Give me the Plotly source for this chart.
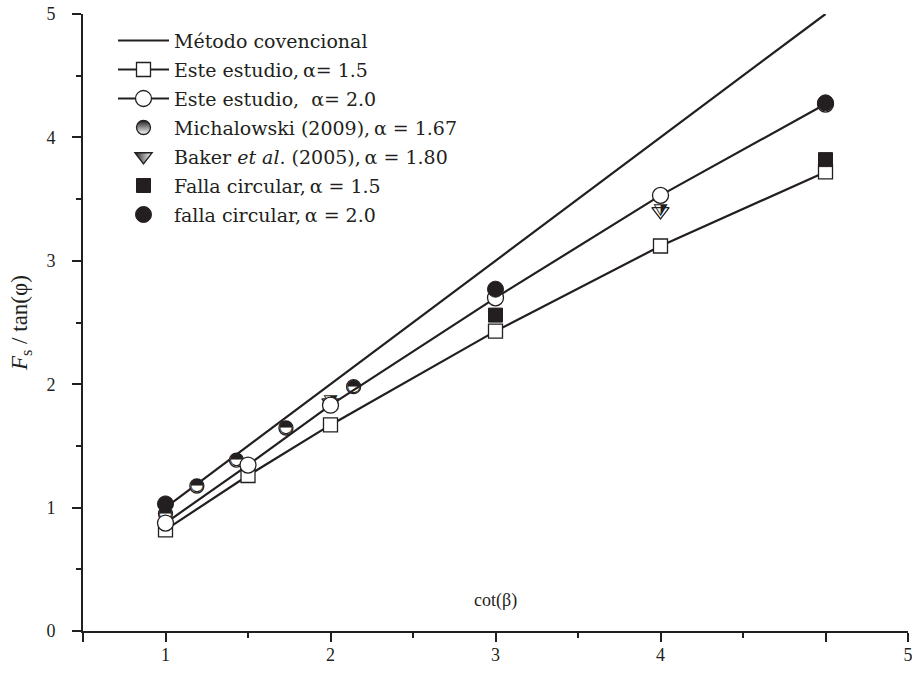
import plotly.graph_objects as go

# ---------------- data ----------------
conv_x = [1, 5]
conv_y = [1, 5]

est15_x = [1, 1.5, 2, 3, 4, 5]
est15_y = [0.82, 1.26, 1.67, 2.43, 3.12, 3.72]

est20_x = [1, 1.5, 2, 3, 4, 5]
est20_y = [0.875, 1.345, 1.83, 2.70, 3.53, 4.27]

mich_x = [1, 1.19, 1.43, 1.73, 2.14]
mich_y = [0.95, 1.175, 1.385, 1.645, 1.98]

baker_x = [2, 4]
baker_y = [1.85, 3.40]

circ15_x = [3, 5]
circ15_y = [2.56, 3.82]

circ20_x = [1, 3, 5]
circ20_y = [1.03, 2.77, 4.28]

x_tickvals = [0.5, 1, 2, 3, 4, 5, 5.5]
x_ticktext = [" ", "1", "2", "3", "4", " ", "5"]
y_tickvals = [0, 1, 2, 3, 4, 5]
y_ticktext = ["0", "1", "2", "3", "4", "5"]

names = [
    "Método covencional",
    "Este estudio,\u2009α= 1.5",
    "Este estudio,  α= 2.0",
    "Michalowski (2009),\u2009α = 1.67",
    "Baker <i>et al</i>. (2005),\u2009α = 1.80",
    "Falla circular,\u2009α = 1.5",
    "falla circular,\u2009α = 2.0",
]

# ---------------- style ----------------
INK = "#231f20"
SERIF = "Liberation Serif, Times New Roman, serif"
GLYPH = "DejaVu Sans, Noto Sans, sans-serif"


def leg(t):
    return "<span style=\"font-family:'DejaVu Serif';font-size:19px\">" + t + "</span>"


fig = go.Figure()

# conventional method line
fig.add_trace(go.Scatter(x=conv_x, y=conv_y, mode="lines", name=leg(names[0]),
                         line=dict(color=INK, width=2.2), showlegend=True))

# Michalowski data: white base + half-black glyph
fig.add_trace(go.Scatter(x=mich_x, y=mich_y, mode="markers", showlegend=False,
                         marker=dict(symbol="circle", size=14, color="white",
                                     line=dict(color=INK, width=1.3))))
fig.add_trace(go.Scatter(x=mich_x, y=mich_y, mode="text", text=["◓"] * len(mich_x),
                         textposition="middle center", showlegend=False,
                         textfont=dict(family=GLYPH, size=17, color=INK)))

# Baker data
fig.add_trace(go.Scatter(x=baker_x, y=baker_y, mode="markers", showlegend=False,
                         marker=dict(symbol="triangle-down", size=15, color="white",
                                     line=dict(color=INK, width=1.3))))
fig.add_trace(go.Scatter(x=baker_x, y=baker_y, mode="text", text=["⧩"] * len(baker_x),
                         textposition="middle center", showlegend=False,
                         textfont=dict(family=GLYPH, size=17, color=INK)))

# This study alpha 1.5
fig.add_trace(go.Scatter(x=est15_x, y=est15_y, mode="lines+markers", name=leg(names[1]),
                         line=dict(color=INK, width=2.2),
                         marker=dict(symbol="square", size=14, color="white",
                                     line=dict(color=INK, width=1.3))))
# This study alpha 2.0
fig.add_trace(go.Scatter(x=est20_x, y=est20_y, mode="lines+markers", name=leg(names[2]),
                         line=dict(color=INK, width=2.2),
                         marker=dict(symbol="circle", size=16, color="white",
                                     line=dict(color=INK, width=1.3))))

# legend-only entries for half-filled symbols
fig.add_trace(go.Scatter(x=[None], y=[None], mode="markers", name=leg(names[3]),
                         marker=dict(symbol="circle", size=14, color=INK,
                                     gradient=dict(type="vertical", color="white"),
                                     line=dict(color=INK, width=1.3))))
fig.add_trace(go.Scatter(x=[None], y=[None], mode="markers", name=leg(names[4]),
                         marker=dict(symbol="triangle-down", size=15, color=INK,
                                     gradient=dict(type="horizontal", color="white"),
                                     line=dict(color=INK, width=1.3))))

# circular failure
fig.add_trace(go.Scatter(x=circ15_x, y=circ15_y, mode="markers", name=leg(names[5]),
                         marker=dict(symbol="square", size=14, color=INK,
                                     line=dict(color=INK, width=1))))
fig.add_trace(go.Scatter(x=circ20_x, y=circ20_y, mode="markers", name=leg(names[6]),
                         marker=dict(symbol="circle", size=16, color=INK,
                                     line=dict(color=INK, width=1))))

fig.add_annotation(x=3, y=0.25, xref="x", yref="y", text="cot(β)", showarrow=False,
                   font=dict(family=SERIF, size=18, color=INK))

fig.update_layout(
    width=912, height=681,
    margin=dict(l=83, r=4, t=14, b=50, autoexpand=False),
    paper_bgcolor="white", plot_bgcolor="white",
    font=dict(family=SERIF, size=18, color=INK),
    showlegend=True,
    legend=dict(x=(113 - 83) / 825, y=(631 - 21) / 617, xanchor="left", yanchor="top",
                bgcolor="rgba(0,0,0,0)", borderwidth=0,
                font=dict(family=SERIF, size=20, color=INK),
                itemwidth=51, tracegroupgap=0),
    xaxis=dict(range=[0.5, 5.5], showgrid=False, zeroline=False, automargin=False,
               showline=True, linecolor=INK, linewidth=2,
               tickmode="array", tickvals=x_tickvals, ticktext=x_ticktext,
               ticks="outside", ticklen=9, tickwidth=2, tickcolor=INK,
               ticklabelstandoff=-3, ticklabeloverflow="allow",
               tickfont=dict(family=SERIF, size=18, color=INK),
               minor=dict(tickmode="array", tickvals=[1.5, 2.5, 3.5, 4.5],
                          ticks="outside", ticklen=5, tickwidth=2, tickcolor=INK)),
    yaxis=dict(range=[0, 5], showgrid=False, zeroline=False, automargin=False,
               showline=True, linecolor=INK, linewidth=2,
               tickmode="array", tickvals=y_tickvals, ticktext=y_ticktext,
               ticks="outside", ticklen=9, tickwidth=2, tickcolor=INK,
               ticklabelstandoff=13,
               tickfont=dict(family=SERIF, size=18, color=INK),
               minor=dict(tickmode="array", tickvals=[0.5, 1.5, 2.5, 3.5, 4.5],
                          ticks="outside", ticklen=5, tickwidth=2, tickcolor=INK),
               title=dict(text="<i>F</i><sub>s</sub> / tan(φ)", standoff=12,
                          font=dict(family=SERIF, size=23, color=INK))),
)

fig.write_html("out.html", config={"displayModeBar": False},
               post_script="document.body.style.margin='0px';document.body.style.padding='0px';")
